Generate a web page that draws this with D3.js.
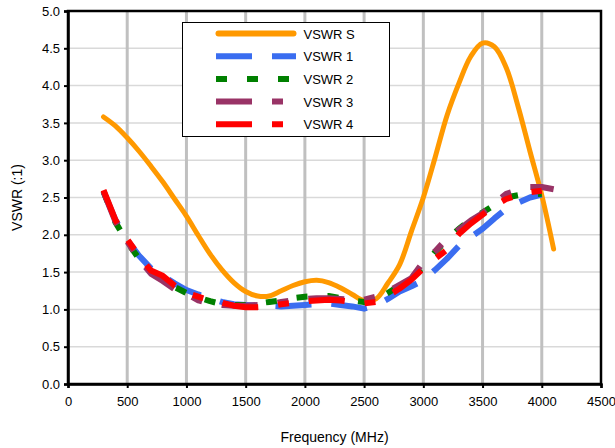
<!DOCTYPE html>
<html>
<head>
<meta charset="utf-8">
<script src="https://cdn.jsdelivr.net/npm/d3@7"></script>
<style>
  body { margin: 0; background: #fff; }
  svg { font-family: "Liberation Sans", Arial, sans-serif; }
</style>
</head>
<body>
<svg id="chart" width="615" height="448"></svg>
<script>
// frequencies (MHz) and VSWR readings
const freqS = d3.range(300, 4101, 100);
const vswrS = [3.58, 3.46, 3.30, 3.12, 2.92, 2.71, 2.48, 2.25, 1.99, 1.74, 1.53, 1.36, 1.24, 1.18, 1.18, 1.25, 1.32, 1.37, 1.39, 1.36,
               1.29, 1.20, 1.12, 1.14, 1.35, 1.60, 2.05, 2.50, 3.04, 3.60, 4.03, 4.39, 4.57, 4.52, 4.24, 3.72, 3.12, 2.53, 1.81];

const freq4k = d3.range(300, 4001, 100);
const vswr1 = [2.58, 2.20, 1.93, 1.72, 1.55, 1.45, 1.35, 1.26, 1.20, 1.15, 1.10, 1.07, 1.06, 1.05, 1.05, 1.04, 1.05, 1.06, 1.07, 1.08,
               1.06, 1.04, 1.01, 1.05, 1.14, 1.24, 1.31, 1.39, 1.53, 1.68, 1.85, 1.97, 2.08, 2.22, 2.35, 2.43, 2.50, 2.54];
const vswr2 = [2.58, 2.17, 1.90, 1.68, 1.50, 1.40, 1.30, 1.22, 1.16, 1.11, 1.07, 1.06, 1.06, 1.08, 1.10, 1.12, 1.15, 1.17, 1.18, 1.18,
               1.15, 1.12, 1.10, 1.13, 1.22, 1.32, 1.42, 1.57, 1.77, 1.93, 2.08, 2.20, 2.30, 2.40, 2.50, 2.53, 2.54, 2.55];
const freq3 = d3.range(300, 4101, 100);
const vswr3 = [2.58, 2.18, 1.91, 1.67, 1.48, 1.38, 1.27, 1.21, 1.12, 1.08, 1.06, 1.05, 1.05, 1.06, 1.07, 1.10, 1.12, 1.14, 1.15, 1.15,
               1.14, 1.13, 1.13, 1.17, 1.24, 1.33, 1.42, 1.64, 1.78, 1.95, 2.07, 2.19, 2.29, 2.42, 2.55, 2.60, 2.64, 2.64, 2.61];
const vswr4 = [2.60, 2.20, 1.94, 1.72, 1.52, 1.45, 1.32, 1.22, 1.17, 1.12, 1.09, 1.05, 1.03, 1.03, 1.04, 1.07, 1.09, 1.11, 1.12, 1.13,
               1.12, 1.10, 1.08, 1.10, 1.18, 1.28, 1.40, 1.55, 1.68, 1.80, 2.01, 2.15, 2.27, 2.39, 2.48, 2.53, 2.57, 2.59];

const series = [
  {name: 'VSWR S', x: freqS,  y: vswrS, color: '#ff9900', dash: null,            cap: 'round'},
  {name: 'VSWR 1', x: freq4k, y: vswr1, color: '#3a6df0', dash: '36,20',         cap: 'butt'},
  {name: 'VSWR 2', x: freq4k, y: vswr2, color: '#008000', dash: '11,20',         cap: 'butt'},
  {name: 'VSWR 3', x: freq3,  y: vswr3, color: '#993366', dash: '36,20,11,20',   cap: 'butt'},
  {name: 'VSWR 4', x: freq4k, y: vswr4, color: '#ff0000', dash: '36,20,11,20',   cap: 'butt'}
];

const xTicks = d3.range(0, 4501, 500);
const yTicks = d3.range(0, 5.01, 0.5);

const svg = d3.select('#chart');
const m = {top: 11, right: 14, bottom: 64, left: 68};
const W = 615, H = 448;
const x = d3.scaleLinear().domain([0, 4500]).range([m.left, W - m.right]);
const y = d3.scaleLinear().domain([0, 5]).range([H - m.bottom, m.top]);

// horizontal gridlines (light)
svg.append('g').selectAll('line').data(yTicks.slice(1)).enter().append('line')
  .attr('x1', x(0)).attr('x2', x(4500))
  .attr('y1', d => y(d)).attr('y2', d => y(d))
  .attr('stroke', '#d9d9d9').attr('stroke-width', 1.5);

// vertical gridlines (thicker gray)
svg.append('g').selectAll('line').data(xTicks.slice(1, -1)).enter().append('line')
  .attr('x1', d => x(d)).attr('x2', d => x(d))
  .attr('y1', y(0)).attr('y2', y(5))
  .attr('stroke', '#c0c0c0').attr('stroke-width', 3);

// plot frame
svg.append('rect')
  .attr('x', x(0)).attr('y', y(5))
  .attr('width', x(4500) - x(0)).attr('height', y(0) - y(5))
  .attr('fill', 'none').attr('stroke', '#000').attr('stroke-width', 2.5);

// axes
const xAxis = svg.append('g').attr('transform', `translate(0,${y(0)})`)
  .call(d3.axisBottom(x).tickValues(xTicks).tickSize(4).tickPadding(9).tickFormat(d3.format('d')));
const yAxis = svg.append('g').attr('transform', `translate(${x(0)},0)`)
  .call(d3.axisLeft(y).tickValues(yTicks).tickSize(4).tickPadding(4).tickFormat(d3.format('.1f')));
[xAxis, yAxis].forEach(a => {
  a.select('.domain').attr('stroke', '#000').attr('stroke-width', 2.5);
  a.selectAll('.tick line').attr('stroke', '#000').attr('stroke-width', 2);
  a.selectAll('.tick text').attr('fill', '#000').style('font-size', '13px')
    .style('font-family', '"Liberation Sans", Arial, sans-serif');
});

// axis titles
svg.append('text').attr('x', (x(0) + x(4500)) / 2).attr('y', 442)
  .attr('text-anchor', 'middle').style('font-size', '14px').text('Frequency (MHz)');
svg.append('text').attr('transform', `translate(22,${(y(0) + y(5)) / 2}) rotate(-90)`)
  .attr('text-anchor', 'middle').style('font-size', '14px').text('VSWR (:1)');

// series lines
series.forEach(s => {
  const line = d3.line().x(d => x(d[0])).y(d => y(d[1]))
    .curve(s.dash ? d3.curveLinear : d3.curveCatmullRom.alpha(0.5));
  svg.append('path')
    .datum(s.x.map((f, i) => [f, s.y[i]]))
    .attr('d', line)
    .attr('fill', 'none')
    .attr('stroke', s.color)
    .attr('stroke-width', s.dash ? 6 : 5)
    .attr('stroke-linecap', s.cap)
    .attr('stroke-linejoin', 'round')
    .attr('stroke-dasharray', s.dash);
});

// legend
const lg = svg.append('g').attr('transform', 'translate(182.5,22.5)');
lg.append('rect').attr('width', 207).attr('height', 114)
  .attr('fill', '#fff').attr('stroke', '#000').attr('stroke-width', 1);
series.forEach((s, i) => {
  const ly = 11 + i * 22.7;
  lg.append('line').attr('x1', s.dash ? 33.5 : 36).attr('x2', s.dash ? 113.5 : 111)
    .attr('y1', ly).attr('y2', ly)
    .attr('stroke', s.color).attr('stroke-width', 6)
    .attr('stroke-linecap', s.cap).attr('stroke-dasharray', s.dash);
  lg.append('text').attr('x', 121).attr('y', ly + 5)
    .style('font-size', '13px').text(s.name);
});
</script>
</body>
</html>
